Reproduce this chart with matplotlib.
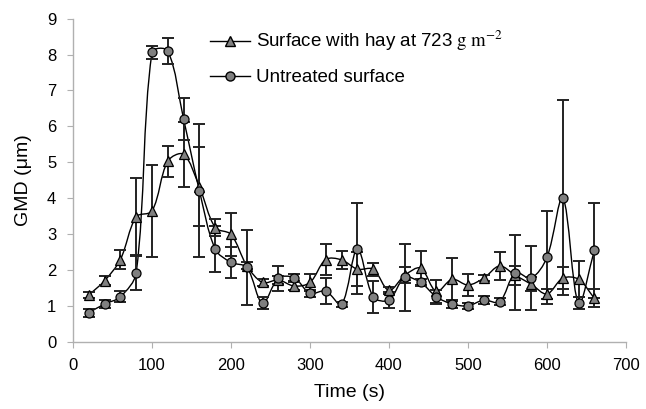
"""
GMD ao longo do tempo: superficie com feno vs superficie sem tratamento
"""

import numpy as np
import matplotlib
matplotlib.use("Agg")
import matplotlib.pyplot as plt
from matplotlib.path import Path
from matplotlib.patches import PathPatch
from matplotlib.lines import Line2D

plt.rcParams['font.family'] = ['Liberation Sans', 'DejaVu Sans']
plt.rcParams['mathtext.fontset'] = 'stix'

# Dados
tempo = [20, 40, 60, 80, 100, 120, 140, 160, 180, 200, 220, 240, 260, 280, 300,
         320, 340, 360, 380, 400, 420, 440, 460, 480, 500, 520, 540, 560, 580,
         600, 620, 640, 660]

gmd_feno = [1.30, 1.70, 2.29, 3.48, 3.64, 5.03, 5.22, 4.32, 3.18, 2.99, 2.12,
            1.65, 1.72, 1.55, 1.65, 2.29, 2.28, 2.02, 2.02, 1.43, 1.85, 2.05,
            1.40, 1.74, 1.58, 1.77, 2.11, 1.85, 1.60, 1.33, 1.77, 1.74, 1.21]
erro_feno = [0.08, 0.12, 0.26, 1.07, 1.28, 0.43, 0.90, 1.10, 0.24, 0.60, 0.10,
             0.10, 0.10, 0.12, 0.25, 0.43, 0.25, 0.47, 0.18, 0.10, 0.22, 0.47,
             0.32, 0.60, 0.30, 0.08, 0.40, 0.27, 0.20, 0.15, 0.30, 0.50, 0.25]

gmd_sem = [0.81, 1.05, 1.25, 1.92, 8.06, 8.10, 6.20, 4.21, 2.58, 2.21, 2.07,
           1.07, 1.77, 1.78, 1.35, 1.41, 1.04, 2.59, 1.25, 1.16, 1.79, 1.65,
           1.25, 1.05, 1.00, 1.16, 1.11, 1.92, 1.77, 2.35, 4.01, 1.07, 2.55]
erro_sem = [0.11, 0.12, 0.15, 0.47, 0.19, 0.37, 0.58, 1.85, 0.63, 0.44, 1.05,
            0.17, 0.35, 0.10, 0.10, 0.36, 0.08, 1.27, 0.44, 0.23, 0.93, 0.10,
            0.20, 0.10, 0.08, 0.12, 0.10, 1.05, 0.90, 1.30, 2.71, 0.17, 1.32]

rotulo_feno = r'Surface with hay at 723 $\mathrm{g\ m^{-2}}$'
rotulo_sem = 'Untreated surface'


def caminho_suave(ax, x, y):
    """Curva de Bezier suave (estilo Excel), tangentes pesadas pelo
    comprimento dos segmentos em pixels"""
    p = np.column_stack([x, y]).astype(float)
    q = ax.transData.transform(p)  # pixels, so para medir distancias
    n = len(p)
    verts = [p[0]]
    codes = [Path.MOVETO]
    for i in range(n - 1):
        i0 = max(i - 1, 0)
        i3 = min(i + 2, n - 1)
        d01 = np.hypot(*(q[i] - q[i0]))
        d12 = np.hypot(*(q[i + 1] - q[i]))
        d23 = np.hypot(*(q[i3] - q[i + 1]))
        c1 = p[i] + (p[i + 1] - p[i0]) * d12 / (d01 + d12) / 3.0
        c2 = p[i + 1] - (p[i3] - p[i]) * d12 / (d12 + d23) / 3.0
        verts += [c1, c2, p[i + 1]]
        codes += [Path.CURVE4] * 3
    return Path(verts, codes)


fig = plt.figure(figsize=(6.46, 4.09), dpi=100)
ax = fig.add_axes([0.113, 0.1645, 0.856, 0.79])
ax.set_xlim(0, 700)
ax.set_ylim(0, 9)

cinza = '#808080'
for y, err, marc, tam in [(gmd_feno, erro_feno, '^', 7.5), (gmd_sem, erro_sem, 'o', 6.5)]:
    ax.add_patch(PathPatch(caminho_suave(ax, tempo, y), facecolor='none',
                           edgecolor='black', lw=1.0, zorder=2))
    ax.errorbar(tempo, y, yerr=err, fmt='none', ecolor='#222222', elinewidth=1.4,
                capsize=4.5, capthick=1.4, zorder=3)
    ax.plot(tempo, y, linestyle='none', marker=marc, markersize=tam,
            markerfacecolor=cinza, markeredgecolor='black', markeredgewidth=0.9,
            zorder=4)

ax.set_xticks(range(0, 701, 100))
ax.set_yticks(range(0, 10))
ax.tick_params(labelsize=12, color='#b0b0b0', length=4, direction='out', pad=8)

for lado in ['top', 'right']:
    ax.spines[lado].set_visible(False)
for lado in ['left', 'bottom']:
    ax.spines[lado].set_color('#b0b0b0')
    ax.spines[lado].set_linewidth(1.0)

ax.set_xlabel('Time (s)', fontsize=14, labelpad=8)
ax.set_ylabel('GMD (μm)', fontsize=14, labelpad=11)

alcas = [Line2D([], [], color='black', lw=1.0, marker='^', markersize=7.5,
                markerfacecolor=cinza, markeredgecolor='black'),
         Line2D([], [], color='black', lw=1.0, marker='o', markersize=6.5,
                markerfacecolor=cinza, markeredgecolor='black')]
ax.legend(alcas, [rotulo_feno, rotulo_sem], loc='upper left',
          bbox_to_anchor=(0.248, 0.968), frameon=False, fontsize=13.5,
          handlelength=2.15, labelspacing=0.85, handletextpad=0.3,
          borderpad=0, borderaxespad=0)

plt.savefig('out.png', dpi=100)
